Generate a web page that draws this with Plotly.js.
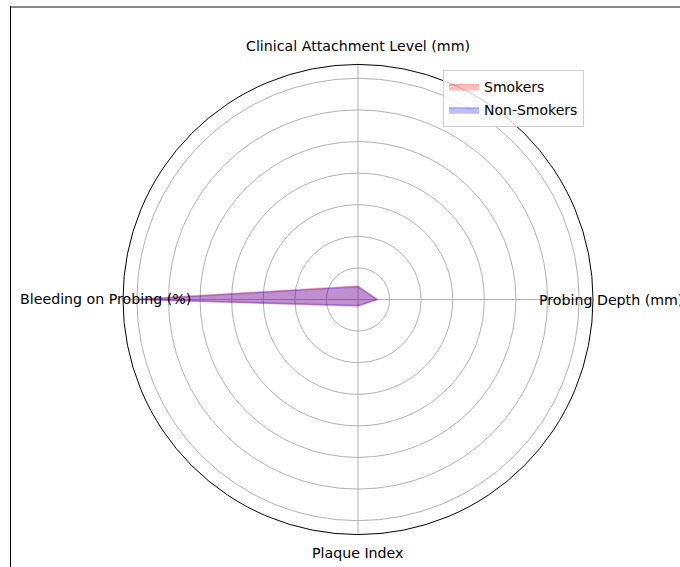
<!DOCTYPE html>
<html>
<head>
<meta charset="utf-8">
<script src="https://cdn.plot.ly/plotly-3.0.1.min.js"></script>
<style>
  html, body { margin: 0; padding: 0; background: #fff; }
  #wrap { position: relative; width: 680px; height: 567px; overflow: hidden; }
  #chart { width: 680px; height: 567px; }
  #frameTop { position: absolute; left: 10px; top: 6px; width: 670px; height: 2px; background: #8a8a8a; pointer-events: none; }
  #frameLeft { position: absolute; left: 10px; top: 6px; width: 1px; height: 561px; background: #000; pointer-events: none; }
</style>
</head>
<body>
<div id="wrap">
  <div id="chart"></div>
  <div id="frameTop"></div>
  <div id="frameLeft"></div>
</div>
<script>
// Categories (counter-clockwise from 0°)
const categories = ["Probing Depth (mm)", "Clinical Attachment Level (mm)", "Bleeding on Probing (%)", "Plaque Index"];
// Series values
const smokers = [6.3, 4.3, 71, 2.1];
const nonSmokers = [6.0, 4.0, 69.5, 1.9];
const seriesNames = ["Smokers", "Non-Smokers"];

const radialMax = 74.4;

function closed(arr) { return arr.concat([arr[0]]); }

const traces = [
  {
    type: "scatterpolar",
    r: closed(smokers),
    theta: closed(categories),
    mode: "lines",
    fill: "toself",
    fillcolor: "rgba(255,0,0,0.25)",
    line: { color: "rgba(255,0,0,0.25)", width: 1.5 },
    name: seriesNames[0],
    legendgroup: "a",
    hoverinfo: "skip"
  },
  {
    type: "scatterpolar",
    r: closed(nonSmokers),
    theta: closed(categories),
    mode: "lines",
    fill: "toself",
    fillcolor: "rgba(0,0,255,0.25)",
    line: { color: "rgba(0,0,255,0.25)", width: 1.5 },
    name: seriesNames[1],
    legendgroup: "b",
    hoverinfo: "skip"
  }
];

const cx = 358, cy = 299.5, R = 235, W = 680, H = 567;
const labelPad = 253;

// Angular category labels centred just outside the circle (matplotlib style)
const annotations = categories.map((c, i) => {
  const a = i * Math.PI / 2;
  return {
    text: c,
    xref: "paper", yref: "paper",
    x: (cx + labelPad * Math.cos(a)) / W,
    y: 1 - (cy - labelPad * Math.sin(a)) / H,
    xanchor: "center", yanchor: "middle",
    showarrow: false,
    font: { family: "DejaVu Sans", size: 14.2, color: "#000" }
  };
});

const layout = {
  width: W,
  height: H,
  margin: { l: 0, r: 0, t: 0, b: 0 },
  paper_bgcolor: "#fff",
  font: { family: "DejaVu Sans", size: 14, color: "#000" },
  showlegend: true,
  annotations: annotations,
  legend: {
    x: 443 / W,
    y: 1 - 70 / H,
    xanchor: "left",
    yanchor: "top",
    bgcolor: "rgba(255,255,255,0.8)",
    bordercolor: "#d0d0d0",
    borderwidth: 1,
    font: { family: "DejaVu Sans", size: 14, color: "#000" },
    tracegroupgap: 2
  },
  polar: {
    domain: {
      x: [(cx - R) / W, (cx + R) / W],
      y: [(H - cy - R) / H, (H - cy + R) / H]
    },
    bgcolor: "#fff",
    radialaxis: {
      range: [0, radialMax],
      dtick: 10,
      tick0: 0,
      showticklabels: false,
      ticks: "",
      showline: false,
      gridcolor: "#b0b0b0",
      gridwidth: 1
    },
    angularaxis: {
      type: "category",
      categoryarray: categories,
      rotation: 0,
      direction: "counterclockwise",
      showticklabels: false,
      ticks: "",
      showline: true,
      linecolor: "#000",
      linewidth: 1,
      gridcolor: "#b0b0b0",
      gridwidth: 1
    }
  }
};

Plotly.newPlot("chart", traces, layout, { staticPlot: true, displayModeBar: false });
</script>
</body>
</html>
